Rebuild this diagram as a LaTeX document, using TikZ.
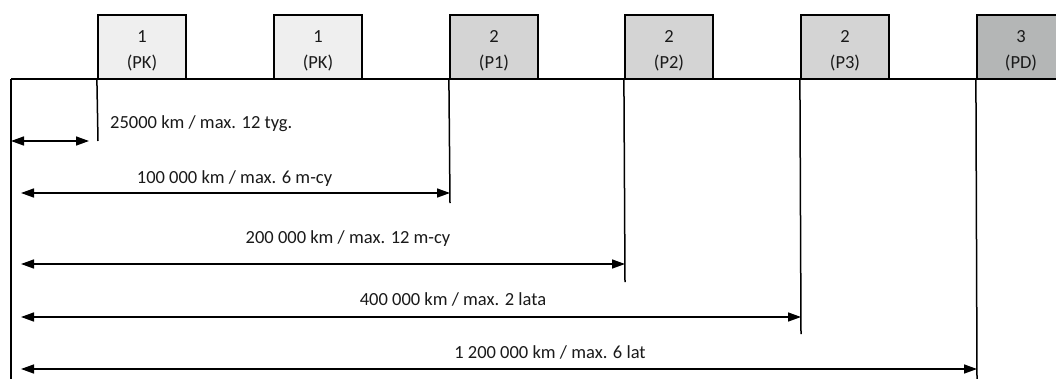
\documentclass[tikz,border=0pt]{standalone}
\usepackage{fontspec}
\setmainfont{Carlito}
\usetikzlibrary{arrows.meta}
\definecolor{boxA}{HTML}{EFEFEF}
\definecolor{boxB}{HTML}{D4D4D4}
\definecolor{boxC}{HTML}{B4B6B6}
\definecolor{txt}{HTML}{1A1A1A}
\begin{document}
\begin{tikzpicture}[x=1pt,y=-1pt,
  box/.style={draw=black, line width=2.2pt, minimum width=88pt, minimum height=64pt,
    inner sep=0pt, align=center, font=\fontsize{18.5}{26}\selectfont, text=txt},
  lab/.style={anchor=base, inner sep=0pt, font=\fontsize{18.5}{22}\selectfont, text=txt},
  axis/.style={line width=2.2pt},
  vline/.style={line width=1.5pt},
  dim/.style={line width=1.5pt, {Triangle[length=13pt,width=9pt]}-{Triangle[length=13pt,width=9pt]}},
]
\clip (0,0) rectangle (1056,378);
\fill[white] (0,0) rectangle (1056,378);
% axis
\coordinate (o) at (11,79);
\coordinate (e) at (1060,79);
\coordinate (ob) at (11,380);
\draw[axis] (o) -- (e);
\draw[vline] (o) -- (ob);
% boxes
\node[box, fill=boxA] (b1) at (142,47) {\rule{0pt}{20pt}1\\(PK)};
\node[box, fill=boxA] (b2) at (318,47) {\rule{0pt}{20pt}1\\(PK)};
\node[box, fill=boxB] (b3) at (494,47) {\rule{0pt}{20pt}2\\(P1)};
\node[box, fill=boxB] (b4) at (669,47) {\rule{0pt}{20pt}2\\(P2)};
\node[box, fill=boxB] (b5) at (845,47) {\rule{0pt}{20pt}2\\(P3)};
\node[box, fill=boxC] (b6) at (1021,47) {\rule{0pt}{20pt}3\\(PD)};
% vertical lines
\coordinate (v1) at (98,141);
\coordinate (v3) at (450,203);
\coordinate (v4) at (625,282);
\coordinate (v5) at (801,334);
\coordinate (v6) at (977,380);
\draw[vline] (b1.south west) -- (v1);
\draw[vline] (b3.south west) -- (v3);
\draw[vline] (b4.south west) -- (v4);
\draw[vline] (b5.south west) -- (v5);
\draw[vline] (b6.south west) -- (v6);
% dimension arrows
\coordinate (a1l) at (11,141);  \coordinate (a1r) at (89,141);
\coordinate (a2l) at (21,193);  \coordinate (a2r) at (450,193);
\coordinate (a3l) at (21,264);  \coordinate (a3r) at (625,264);
\coordinate (a4l) at (21,317);  \coordinate (a4r) at (801,317);
\coordinate (a5l) at (21,369);  \coordinate (a5r) at (977,369);
\draw[dim] (a1l) -- (a1r);
\draw[dim] (a2l) -- (a2r);
\draw[dim] (a3l) -- (a3r);
\draw[dim] (a4l) -- (a4r);
\draw[dim] (a5l) -- (a5r);
% labels
\node[lab, anchor=base west] (l1) at (110,128.5) {25000 km / max. 12 tyg.};
\node[lab] (l2) at (234.5,183.5) {100 000 km / max. 6 m-cy};
\node[lab] (l3) at (348,243.5) {200 000 km / max. 12 m-cy};
\node[lab] (l4) at (453,305.5) {400 000 km / max. 2 lata};
\node[lab] (l5) at (550,358.5) {1 200 000 km / max. 6 lat};
\end{tikzpicture}
\end{document}
